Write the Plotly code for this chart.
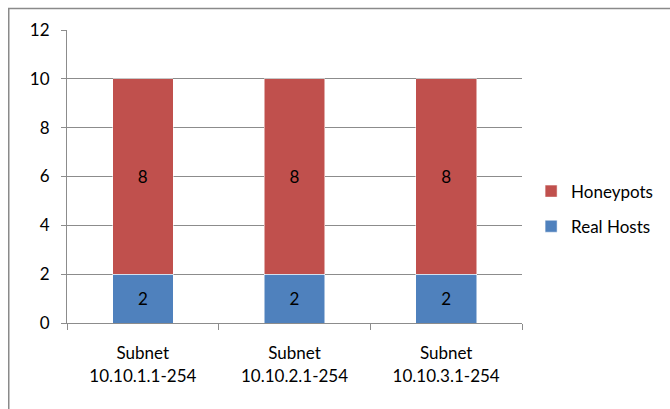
import plotly.graph_objects as go

categories = ["Subnet<br>10.10.1.1-254", "Subnet<br>10.10.2.1-254", "Subnet<br>10.10.3.1-254"]
real_hosts = [2, 2, 2]
honeypots = [8, 8, 8]
y_ticks = [0, 2, 4, 6, 8, 10, 12]

FONT = "Lato, Noto Sans, sans-serif"
GRID = "#8c8c8c"

fig = go.Figure()
fig.add_trace(go.Bar(
    x=categories, y=real_hosts, name="Real Hosts", legendgroup="b", legendrank=2,
    marker=dict(color="#4F81BD", line=dict(color="#ffffff", width=0.5)),
    text=[str(v) for v in real_hosts], textposition="inside", insidetextanchor="middle",
    textfont=dict(color="#000000", size=17, family=FONT),
))
fig.add_trace(go.Bar(
    x=categories, y=honeypots, name="Honeypots", legendgroup="a", legendrank=1,
    marker=dict(color="#C0504D", line=dict(color="#ffffff", width=0.5)),
    text=[str(v) for v in honeypots], textposition="inside", insidetextanchor="middle",
    textfont=dict(color="#000000", size=17, family=FONT),
))

fig.update_layout(
    width=670, height=409,
    margin=dict(l=67, r=146, t=30, b=86),
    barmode="stack", bargap=0.6,
    plot_bgcolor="white", paper_bgcolor="white",
    font=dict(family=FONT, size=16, color="#000000"),
    showlegend=True,
    legend=dict(x=1.02, y=0.51, xanchor="left", yanchor="top",
                traceorder="grouped", tracegroupgap=10,
                font=dict(size=17, family=FONT, color="#000000")),
    xaxis=dict(showline=True, linecolor=GRID, linewidth=1, ticks="outside",
               tickson="boundaries", ticklen=6, tickcolor=GRID, ticklabelstandoff=15,
               tickfont=dict(size=17, family=FONT, color="#000000"), showgrid=False),
    yaxis=dict(range=[0, 12], tickvals=y_ticks, showgrid=True, gridcolor=GRID, gridwidth=1,
               showline=True, linecolor=GRID, linewidth=1, ticks="outside", ticklen=5,
               tickcolor=GRID, zeroline=False, ticklabelstandoff=8,
               tickfont=dict(size=17, family=FONT, color="#000000")),
    shapes=[dict(type="rect", xref="paper", yref="paper",
                 x0=(8.5 - 67) / 457, x1=(680 - 67) / 457,
                 y0=(323 - 420) / 293, y1=(323 - 8.5) / 293,
                 line=dict(color="#8a8a8a", width=1.5), fillcolor="rgba(0,0,0,0)", layer="below")],
)

fig.write_html("out.html")
